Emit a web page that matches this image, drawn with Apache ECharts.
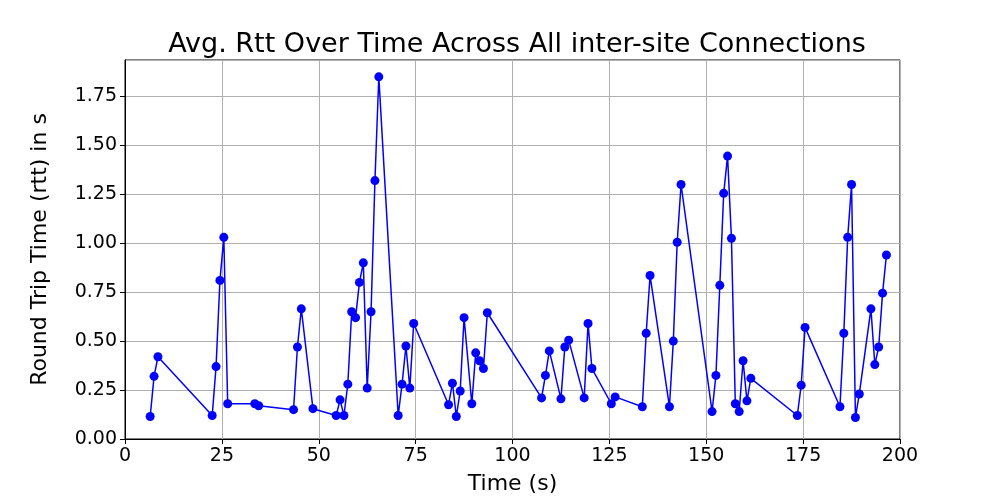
<!DOCTYPE html><html><head><meta charset="utf-8"><script src="https://cdn.jsdelivr.net/npm/echarts@6/dist/echarts.min.js"></script></head><body style="margin:0"><div id="c" style="width:1000px;height:500px"></div><script>
const times=[6.5,7.5,8.5,22.5,23.5,24.5,25.5,26.5,33.5,34.5,43.5,44.5,45.5,48.5,54.5,55.5,56.5,57.5,58.5,59.5,60.5,61.5,62.5,63.5,64.5,65.5,70.5,71.5,72.5,73.5,74.5,83.5,84.5,85.5,86.5,87.5,89.5,90.5,91.5,92.5,93.5,107.5,108.5,109.5,112.5,113.5,114.5,118.5,119.5,120.5,125.5,126.5,133.5,134.5,135.5,140.5,141.5,142.5,143.5,151.5,152.5,153.5,154.5,155.5,156.5,157.5,158.5,159.5,160.5,161.5,173.5,174.5,175.5,184.5,185.5,186.5,187.5,188.5,189.5,192.5,193.5,194.5,195.5,196.5];
const rtt=[0.115,0.32,0.42,0.12,0.37,0.81,1.03,0.18,0.18,0.17,0.15,0.47,0.665,0.155,0.12,0.2,0.12,0.28,0.65,0.62,0.8,0.9,0.26,0.65,1.32,1.85,0.12,0.28,0.475,0.26,0.59,0.175,0.285,0.115,0.245,0.62,0.18,0.44,0.4,0.36,0.645,0.21,0.325,0.45,0.205,0.47,0.505,0.21,0.59,0.36,0.18,0.215,0.165,0.54,0.835,0.165,0.5,1.005,1.3,0.14,0.325,0.785,1.255,1.445,1.025,0.18,0.14,0.4,0.195,0.31,0.12,0.275,0.57,0.165,0.54,1.03,1.3,0.11,0.23,0.665,0.38,0.47,0.745,0.94];
const font='DejaVu Sans';
const ax={axisLine:{show:true,onZero:false,lineStyle:{color:'#000',width:1}},axisTick:{show:true,length:5,lineStyle:{color:'#000'}},splitLine:{show:true,lineStyle:{color:'#b0b0b0',width:1}},axisLabel:{color:'#000',fontSize:19,fontFamily:font},nameTextStyle:{color:'#000',fontSize:22,fontFamily:font}};
echarts.init(document.getElementById('c')).setOption({animation:false,
title:{text:'Avg. Rtt Over Time Across All inter-site Connections',left:512,top:26,textAlign:'center',textStyle:{fontSize:27,fontWeight:'normal',color:'#000',fontFamily:font}},
grid:{left:125,right:100,top:60,bottom:55,show:true,borderColor:'#000',borderWidth:1},
xAxis:Object.assign({},ax,{type:'value',min:0,max:200,interval:25,name:'Time (s)',nameLocation:'middle',nameGap:34}),
yAxis:Object.assign({},ax,{type:'value',min:0,max:1.936,interval:0.25,name:'Round Trip Time (rtt) in s',nameLocation:'middle',nameGap:74,axisLabel:Object.assign({},ax.axisLabel,{formatter:v=>v.toFixed(2),showMaxLabel:false})}),
series:[{type:'line',data:times.map((t,i)=>[t,rtt[i]]),symbol:'circle',symbolSize:9,lineStyle:{color:'#0000ff',width:1.5},itemStyle:{color:'#0000ff'}}]});
</script></body></html>
